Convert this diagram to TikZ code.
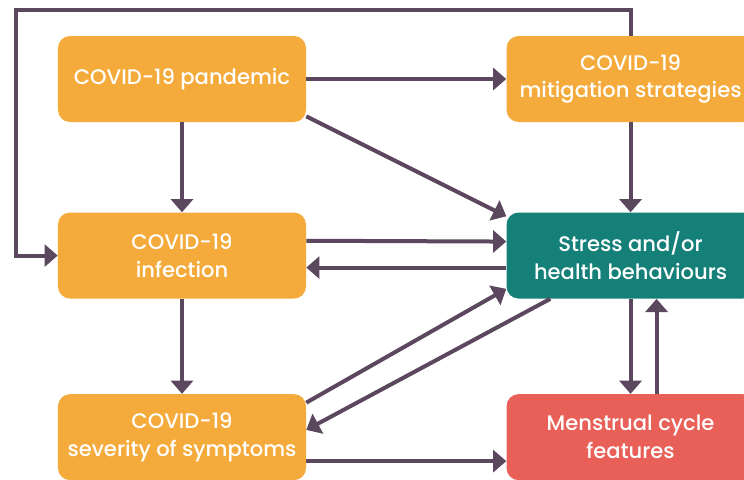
\documentclass[tikz,border=0pt]{standalone}
\usepackage{fontspec}
\setmainfont{Poppins}[UprightFont=* Medium]
\usepackage{tikz}
\usetikzlibrary{arrows.meta, positioning, calc}
\definecolor{covidOrange}{RGB}{245, 171, 59}
\definecolor{stressTeal}{RGB}{20, 128, 120}
\definecolor{cycleRed}{RGB}{232, 96, 88}
\definecolor{linkPurple}{RGB}{92, 72, 94}

\begin{document}
\begin{tikzpicture}[
    node distance=2.25cm and 5cm,
    box/.style={rectangle, rounded corners=0.3cm, fill=#1, text=white, minimum width=6.2cm, minimum height=2.15cm, align=center, font=\fontsize{15}{19.8}\selectfont},
    arrow/.style={-{Triangle[width=0.55cm, length=0.33cm]}, line width=0.1cm, draw=linkPurple}
]
\clip (-4.55,1.975) rectangle (14.05,-10);

% Top row
\node[box=covidOrange] (pandemic) {COVID-19 pandemic};
\node[box=covidOrange, right=of pandemic] (mitigation) {COVID-19\\mitigation strategies};

% Middle row
\node[box=covidOrange, below=of pandemic] (infection) {COVID-19\\infection};
\node[box=stressTeal, right=of infection] (stress) {Stress and/or\\health behaviours};

% Bottom row
\node[box=covidOrange, below=2.375cm of infection] (severity) {COVID-19\\severity of symptoms};
\node[box=cycleRed, right=of severity] (cycle) {Menstrual cycle\\features};

% Arrows
\draw[arrow] (pandemic) -- (mitigation);
\draw[arrow] (pandemic) -- (infection);
\draw[arrow] ([yshift=0.15cm]pandemic.south east) -- ([yshift=-0.1cm]stress.north west);
\draw[arrow] (mitigation) -- (stress);
\draw[arrow] (mitigation.north) -- ++(0,0.65) -| ([xshift=-1.04cm]infection.west) -- (infection.west);
\draw[arrow] ([yshift=0.37cm]infection.east) -- ([yshift=0.35cm]stress.west);
\draw[arrow] ([yshift=-0.3cm]stress.west) -- ([yshift=-0.3cm]infection.east);
\draw[arrow] (infection) -- (severity);
\draw[arrow] ([yshift=-0.22cm]severity.north east) -- ([yshift=0.25cm]stress.south west);
\draw[arrow] ([xshift=1.1cm]stress.south west) -- ([yshift=0.18cm]severity.east);
\draw[arrow] (stress) -- (cycle);
\draw[arrow] ([xshift=0.65cm]cycle.north) -- ([xshift=0.65cm]stress.south);
\draw[arrow] ([yshift=-0.6cm]severity.east) -- ([yshift=-0.6cm]cycle.west);

\end{tikzpicture}
\end{document}
